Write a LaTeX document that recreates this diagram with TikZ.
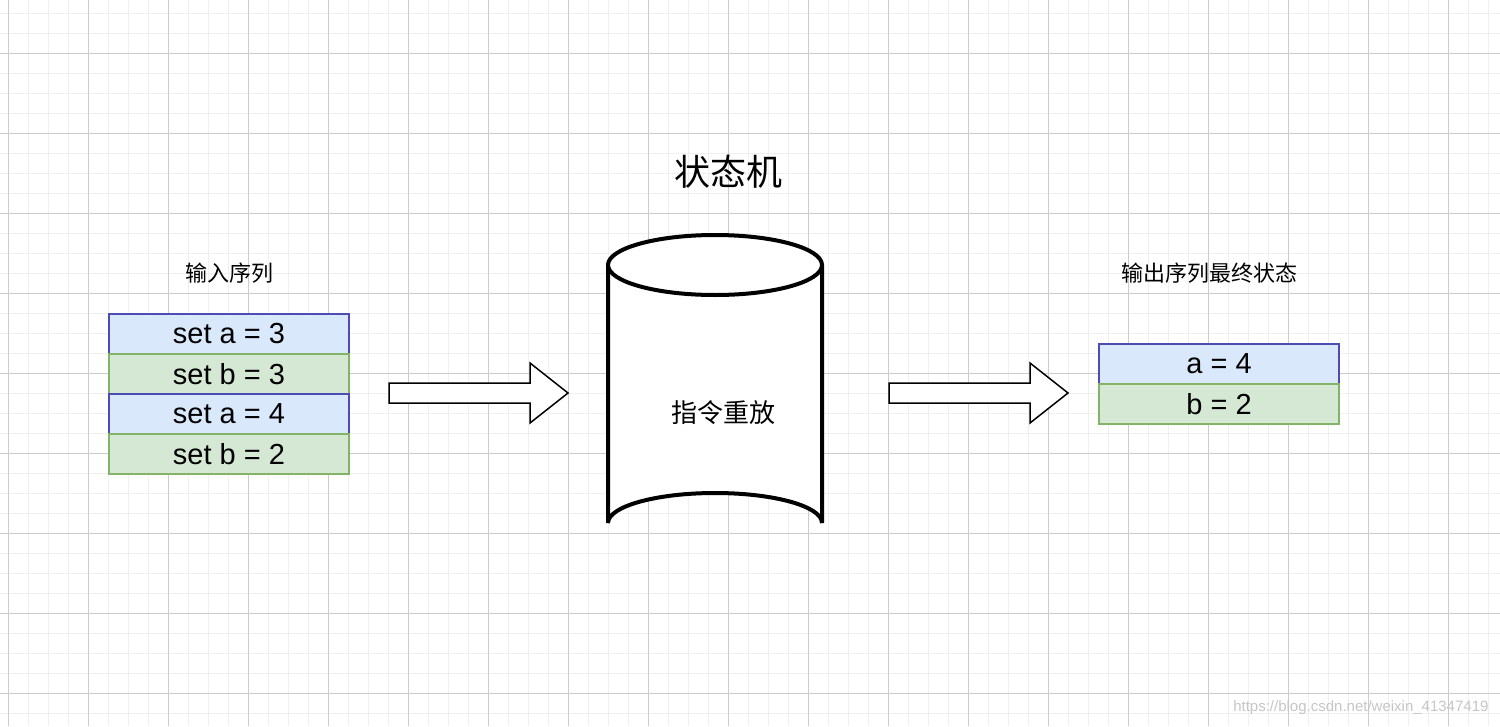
\documentclass[tikz,border=0pt]{standalone}
\usepackage{fontspec}
\setmainfont{Liberation Sans}
\newfontfamily\cjk{Noto Sans CJK SC}
\begin{document}
\begin{tikzpicture}[x=1pt,y=-1pt,
  cellb/.style={draw=blue!40!gray, fill={rgb,255:red,218;green,232;blue,252}, line width=1.5pt, minimum width=240pt, minimum height=40pt, inner sep=0, font=\fontsize{29}{34}\selectfont},
  cellg/.style={draw={rgb,255:red,130;green,179;blue,102}, fill={rgb,255:red,213;green,232;blue,212}, line width=1.5pt, minimum width=240pt, minimum height=40pt, inner sep=0, font=\fontsize{29}{34}\selectfont},
  bigarrow/.style={draw, line width=1.5pt, fill=white, single arrow, minimum height=179pt, minimum width=60pt, single arrow head extend=0pt, inner sep=0},
  lbl/.style={font=\cjk\fontsize{22}{26}\selectfont}]
\useasboundingbox (0,0) rectangle (1500,726);
\fill[white] (0,0) rectangle (1500,726);
\foreach \x in {8,28,...,1500} \draw[gray!12, line width=1pt] (\x,0) -- (\x,726);
\foreach \y in {13,33,...,726} \draw[gray!12, line width=1pt] (0,\y) -- (1500,\y);
\foreach \x in {8,88,...,1500} \draw[gray!40, line width=1pt] (\x,0) -- (\x,726);
\foreach \y in {53,133,...,726} \draw[gray!40, line width=1pt] (0,\y) -- (1500,\y);

\node[font=\cjk\fontsize{36}{40}\selectfont] (title) at (728,172) {状态机};
\node[lbl] (inl) at (229,273) {输入序列};
\node[lbl] (outl) at (1209,273) {输出序列最终状态};

\node[cellb] (a1) at (229,334) {set a = 3};
\node[cellg] (b1) at (229,374) {set b = 3};
\node[cellb] (a2) at (229,414) {set a = 4};
\node[cellg] (b2) at (229,454) {set b = 2};

\node[cellb] (ra) at (1219,364) {a = 4};
\node[cellg] (rb) at (1219,404) {b = 2};

% arrows
\draw[line width=1.5pt, fill=white] (389,383) -- (530,383) -- (530,363) -- (568,393) -- (530,423) -- (530,403) -- (389,403) -- cycle;
\draw[line width=1.5pt, fill=white] (889,383) -- (1030,383) -- (1030,363) -- (1068,393) -- (1030,423) -- (1030,403) -- (889,403) -- cycle;

% cylinder
\draw[line width=4pt, fill=white] (608,265) -- (608,523) arc[start angle=180, end angle=360, x radius=107, y radius=30] -- (822,265);
\draw[line width=4pt, fill=white] (715,265) ellipse[x radius=107, y radius=30];
\node[font=\cjk\fontsize{26}{30}\selectfont] (cyl) at (723,413) {指令重放};

\node[anchor=east, text=gray!45, font=\fontsize{15}{18}\selectfont] (wm) at (1492,708) {https://blog.csdn.net/weixin\_41347419};
\end{tikzpicture}
\end{document}
